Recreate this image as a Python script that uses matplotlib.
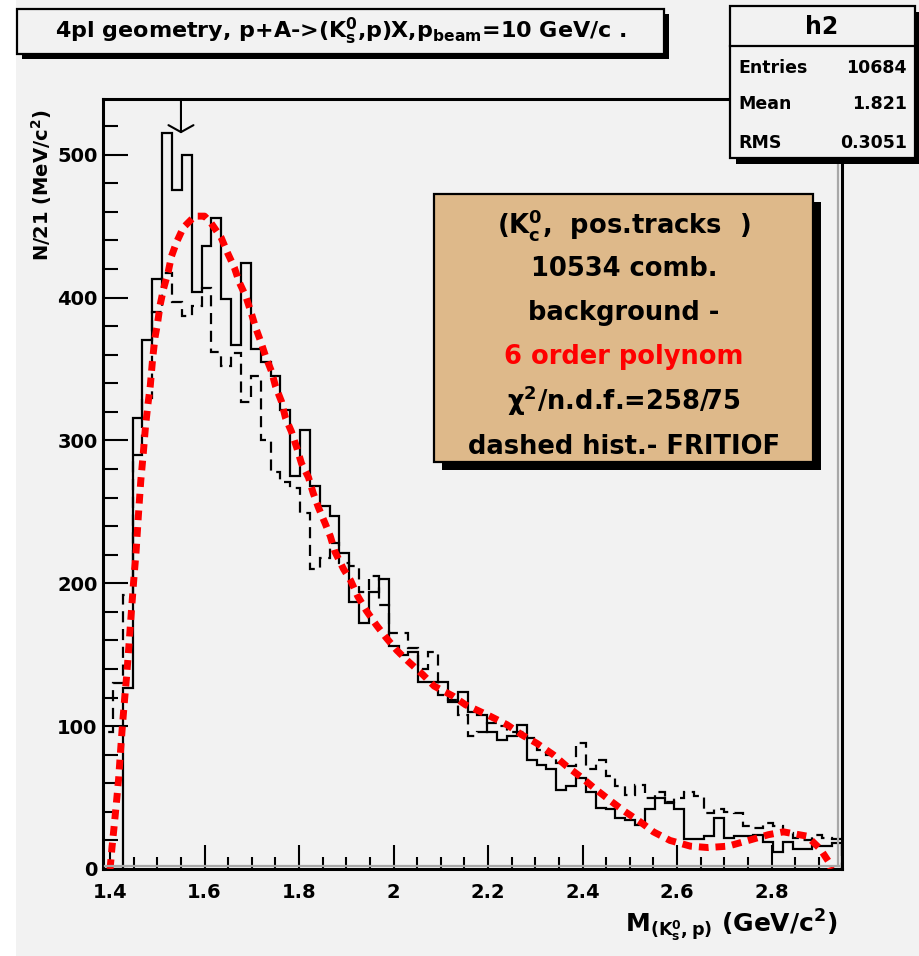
import numpy as np
import matplotlib
matplotlib.use("Agg")
import matplotlib.pyplot as plt
from matplotlib.patches import Rectangle
from matplotlib.lines import Line2D
from matplotlib.ticker import MultipleLocator, FuncFormatter

# binning of the (K0s, p) invariant mass histograms
x_lo, x_hi, n_bins = 1.385, 2.949, 75
y_top = 539

# measured combinations, 21 MeV bins
data_counts = [0, 0, 127, 316, 370, 413, 515, 475, 500, 404,
               436, 456, 399, 367, 424, 364, 355, 345, 321, 275,
               307, 268, 254, 247, 221, 187, 172, 194, 203, 156,
               150, 152, 131, 131, 131, 117, 124, 110, 108, 96,
               90, 93, 101, 76, 73, 70, 55, 58, 64, 54,
               43, 42, 36, 34, 31, 42, 50, 46, 42, 21,
               21, 23, 36, 22, 23, 23, 24, 19, 12, 19,
               14, 14, 16, 16, 18]

# FRITIOF simulation (dashed)
fritiof_counts = [96, 130, 192, 290, 330, 390, 417, 397, 387, 394,
                  407, 362, 352, 361, 327, 345, 300, 278, 271, 267,
                  249, 210, 218, 228, 214, 212, 194, 205, 185, 165,
                  165, 155, 140, 152, 122, 118, 108, 93, 96, 102,
                  100, 96, 96, 92, 83, 80, 74, 72, 88, 70,
                  76, 65, 58, 52, 59, 50, 54, 47, 50, 54,
                  51, 39, 42, 40, 39, 30, 29, 32, 30, 25,
                  22, 20, 24, 22, 21]

# 6th order polynomial background fit
fit_mass = [1.400, 1.404, 1.408, 1.413, 1.418, 1.422, 1.426, 1.430, 1.435, 1.440,
            1.445, 1.450, 1.455, 1.460, 1.465, 1.470, 1.475, 1.480, 1.485, 1.490,
            1.495, 1.500, 1.506, 1.513, 1.523, 1.530, 1.541, 1.555, 1.579, 1.600,
            1.614, 1.635, 1.649, 1.663, 1.673, 1.687, 1.698, 1.708, 1.719, 1.729,
            1.742, 1.750, 1.763, 1.771, 1.784, 1.795, 1.805, 1.820, 1.830, 1.841,
            1.855, 1.866, 1.876, 1.894, 1.909, 1.924, 1.942, 1.963, 1.984, 2.007,
            2.032, 2.062, 2.086, 2.126, 2.152, 2.204, 2.240, 2.271, 2.303, 2.338,
            2.366, 2.398, 2.427, 2.458, 2.486, 2.522, 2.550, 2.585, 2.628, 2.666,
            2.708, 2.751, 2.793, 2.825, 2.875, 2.903, 2.921, 2.926]
fit_counts = [0, 15, 28, 45, 63, 82, 100, 116, 135, 157,
              180, 202, 222, 248, 272, 290, 310, 325, 338, 357,
              372, 381, 395, 406, 418, 429, 439, 449, 457, 457,
              452, 442, 431, 421, 411, 401, 390, 379, 369, 359,
              348, 338, 327, 316, 306, 295, 284, 274, 263, 253,
              242, 233, 222, 210, 202, 191, 181, 171, 162, 153,
              145, 136, 128, 121, 115, 107, 101, 94, 88, 80,
              72, 64, 56, 48, 41, 33, 26, 20, 16, 15,
              16, 20, 24, 26, 23, 14, 5, 0]

peak_mass = 1.55

title = "4pl geometry, p+A->(K$^{0}_{s}$,p)X,p$_{beam}$=10 GeV/c ."
stat_names = ["Entries", "Mean", "RMS"]
stat_values = ["10684", "1.821", "0.3051"]
info_lines = ["(K$^{0}_{c}$,  pos.tracks  )",
              "10534 comb.",
              "background -",
              "6 order polynom",
              "χ$^{2}$/n.d.f.=258/75",
              "dashed hist.- FRITIOF"]
fit_line = 3

plt.rcParams["font.family"] = ["DejaVu Sans"]
plt.rcParams["font.weight"] = "bold"
plt.rcParams["mathtext.default"] = "regular"

W, H = 920, 956
bg = "#f2f2f2"


def fx(px):
    return px / W


def fy(py):
    return 1 - py / H


def box(l, t, r, b, face, shadow):
    fig.add_artist(Rectangle((fx(l + shadow), fy(b + shadow)), (r - l) / W, (b - t) / H,
                             transform=fig.transFigure, facecolor="black", edgecolor="none"))
    fig.add_artist(Rectangle((fx(l), fy(b)), (r - l) / W, (b - t) / H,
                             transform=fig.transFigure, facecolor=face,
                             edgecolor="black", lw=1.6))


fig = plt.figure(figsize=(W / 100, H / 100), dpi=100, facecolor=bg)
fig.add_artist(Rectangle((0, 0), fx(16), 1, transform=fig.transFigure,
                         facecolor="white", edgecolor="none", zorder=0))

ax = fig.add_axes([fx(103), fy(869), fx(842) - fx(103), fy(99) - fy(869)], facecolor=bg)

edges = np.linspace(x_lo, x_hi, n_bins + 1)
ax.stairs(data_counts, edges, color="black", lw=1.6, zorder=3)
ax.stairs(fritiof_counts, edges, color="black", lw=1.6, linestyle=(0, (5, 3)), zorder=3)
ax.plot(fit_mass, fit_counts, color="red", lw=5, linestyle=(0, (1.4, 1.0)),
        dash_capstyle="butt", zorder=4)

ax.annotate("", xy=(peak_mass, max(data_counts)), xytext=(peak_mass, y_top),
            arrowprops=dict(arrowstyle="->,head_length=0.5,head_width=0.9",
                            color="black", lw=1.5, shrinkA=0, shrinkB=0))

ax.set_xlim(x_lo, x_hi)
ax.set_ylim(0, y_top)
ax.xaxis.set_major_locator(MultipleLocator(0.2))
ax.xaxis.set_minor_locator(MultipleLocator(0.05))
ax.yaxis.set_major_locator(MultipleLocator(100))
ax.yaxis.set_minor_locator(MultipleLocator(20))
ax.xaxis.set_major_formatter(FuncFormatter(lambda v, _: f"{v:g}"))
ax.tick_params(which="both", direction="in", top=False, right=False, width=1.5)
ax.tick_params(axis="x", which="major", length=17, pad=10, labelsize=14)
ax.tick_params(axis="x", which="minor", length=8.5)
ax.tick_params(axis="y", which="major", length=18, pad=4, labelsize=14)
ax.tick_params(axis="y", which="minor", length=11)
for sp in ax.spines.values():
    sp.set_linewidth(2.2)

# grey inner border of the frame, kept under the paves
fig.add_artist(Line2D([fx(105), fx(839)], [fy(866), fy(866)], transform=fig.transFigure,
                      color="#a8a8a8", lw=1.6, zorder=0.5))
fig.add_artist(Line2D([fx(838), fx(838)], [fy(100), fy(866)], transform=fig.transFigure,
                      color="#a8a8a8", lw=1.6, zorder=0.5))

# title pave
box(17, 9, 664, 54, bg, 5)
fig.text(fx(341), fy(31), title, ha="center", va="center", fontsize=16)

# statistics pave
box(730, 6, 915, 158, bg, 6)
fig.add_artist(Line2D([fx(730), fx(915)], [fy(46), fy(46)], transform=fig.transFigure,
                      color="black", lw=1.6))
fig.text(fx(822), fy(27), "h2", ha="center", va="center", fontsize=17)
for name, val, py in zip(stat_names, stat_values, [68, 104, 143]):
    fig.text(fx(738), fy(py), name, ha="left", va="center", fontsize=12.5)
    fig.text(fx(907), fy(py), val, ha="right", va="center", fontsize=12.5)

# fit info pave
box(434, 194, 813, 462, "#deb98a", 8)
for i, (line, py) in enumerate(zip(info_lines, [225, 269, 313, 357, 401, 447])):
    fig.text(fx(624), fy(py), line, ha="center", va="center", fontsize=18.5,
             color="red" if i == fit_line else "black")

fig.text(fx(42), fy(110), "N/21 (MeV/c$^{2}$)", rotation=90, ha="center", va="top",
         fontsize=14)
fig.text(fx(838), fy(932), "M$_{(K^{0}_{s},p)}$ (GeV/c$^{2}$)", ha="right", va="baseline",
         fontsize=18)

fig.savefig("out.png", dpi=100, facecolor=bg)
